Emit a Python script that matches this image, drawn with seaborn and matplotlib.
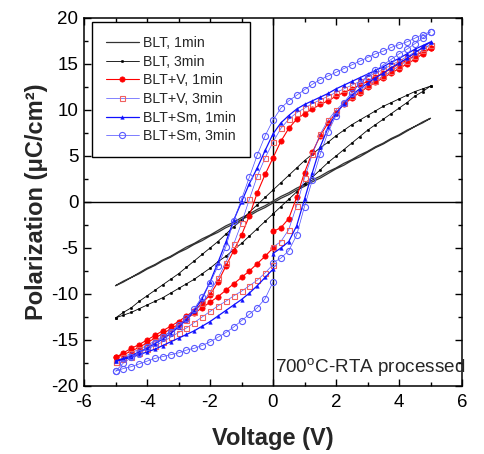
import numpy as np
import matplotlib
matplotlib.use("Agg")
import matplotlib.pyplot as plt
import seaborn as sns
from matplotlib.ticker import MultipleLocator

# Voltage sweep: 0 -> +5 (up), +5 -> -5 (down), -5 -> 0 (back)
V_UP = np.arange(0, 5.001, 0.25)
V_DOWN = np.arange(5, -5.001, -0.25)
V_BACK = np.arange(-5, 0.001, 0.25)

# ---- BLT, 1min ----
BLT1_UP = [-0.1, 0.4, 0.8, 1.3, 1.7, 2.2, 2.6, 3.1, 3.6, 4.0, 4.5, 4.9, 5.4, 5.9, 6.3, 6.8, 7.2, 7.7, 8.2, 8.6, 9.1]
BLT1_DOWN = [9.1, 8.7, 8.2, 7.8, 7.3, 6.9, 6.4, 6.0, 5.5, 5.1, 4.6, 4.2, 3.7, 3.3, 2.8, 2.4, 1.9, 1.5, 1.0, 0.6, 0.1,
             -0.4, -0.8, -1.3, -1.7, -2.2, -2.6, -3.1, -3.6, -4.0, -4.5, -4.9, -5.4, -5.9, -6.3, -6.8, -7.2, -7.7, -8.2, -8.6, -9.1]
BLT1_BACK = [-9.1, -8.7, -8.2, -7.8, -7.3, -6.9, -6.4, -6.0, -5.5, -5.1, -4.6, -4.2, -3.7, -3.3, -2.8, -2.4, -1.9, -1.5, -1.0, -0.6, -0.1]

# ---- BLT, 3min ----
BLT3_UP = [-1.3, -0.5, 0.3, 1.1, 2.0, 2.7, 3.5, 4.3, 5.0, 5.7, 6.4, 7.1, 7.8, 8.4, 9.0, 9.6, 10.2, 10.8, 11.5, 12.0, 12.6]
BLT3_DOWN = [12.6, 12.3, 12.0, 11.6, 11.2, 10.8, 10.4, 9.9, 9.4, 8.9, 8.4, 7.8, 7.2, 6.5, 5.9, 5.2, 4.5, 3.7, 2.9, 2.1, 1.3,
             0.5, -0.3, -1.1, -2.0, -2.7, -3.5, -4.3, -5.0, -5.7, -6.4, -7.1, -7.8, -8.4, -9.0, -9.6, -10.2, -10.8, -11.5, -12.0, -12.6]
BLT3_BACK = [-12.6, -12.3, -12.0, -11.6, -11.2, -10.8, -10.4, -9.9, -9.4, -8.9, -8.4, -7.8, -7.2, -6.5, -5.9, -5.2, -4.5, -3.7, -2.9, -2.1, -1.3]

# ---- BLT+V, 1min ----
V1_UP = [-3.2, -2.8, -1.8, 0.5, 3.2, 5.4, 7.2, 8.6, 9.7, 10.6, 11.3, 11.9, 12.5, 13.0, 13.5, 14.0, 14.5, 15.0, 15.5, 16.1, 16.7]
V1_DOWN = [16.7, 16.3, 15.9, 15.4, 15.0, 14.5, 14.0, 13.6, 13.1, 12.7, 12.3, 11.9, 11.5, 11.0, 10.6, 10.1, 9.6, 9.0, 8.0, 6.6, 4.8,
           3.0, 1.0, -1.5, -3.6, -5.3, -7.0, -8.7, -10.1, -11.0, -11.8, -12.4, -13.0, -13.5, -14.0, -14.5, -15.0, -15.5, -15.9, -16.4, -16.9]
V1_BACK = [-16.9, -16.6, -16.2, -15.8, -15.3, -14.8, -14.3, -13.8, -13.3, -12.7, -12.1, -11.5, -10.9, -10.3, -9.6, -8.9, -8.2, -7.5, -6.7, -5.9, -5.0]

# ---- BLT+V, 3min ----
V3_UP = [-4.9, -4.3, -3.0, -0.4, 2.6, 5.2, 7.4, 8.9, 10.0, 10.8, 11.5, 12.1, 12.7, 13.2, 13.7, 14.2, 14.8, 15.3, 15.9, 16.5, 17.1]
V3_DOWN = [17.1, 16.7, 16.3, 15.8, 15.3, 14.9, 14.4, 14.0, 13.6, 13.1, 12.7, 12.3, 11.9, 11.5, 11.1, 10.7, 10.2, 9.7, 9.0, 8.0, 6.5,
           4.8, 2.8, 0.3, -2.3, -4.6, -6.6, -8.3, -9.8, -11.0, -12.0, -12.8, -13.5, -14.1, -14.6, -15.1, -15.6, -16.0, -16.4, -16.9, -17.4]
V3_BACK = [-17.4, -17.1, -16.8, -16.4, -16.0, -15.6, -15.2, -14.7, -14.2, -13.7, -13.1, -12.5, -11.9, -11.3, -10.8, -10.2, -9.7, -9.1, -8.5, -7.7, -6.8]

# ---- BLT+Sm, 1min ----
SM1_UP = [-5.6, -5.0, -4.3, -2.6, 0.3, 3.2, 6.0, 8.1, 9.6, 10.7, 11.6, 12.3, 12.9, 13.5, 14.0, 14.6, 15.1, 15.6, 16.2, 16.8, 17.4]
SM1_DOWN = [17.4, 17.0, 16.6, 16.1, 15.6, 15.2, 14.7, 14.3, 13.9, 13.5, 13.1, 12.7, 12.3, 11.8, 11.4, 11.0, 10.6, 10.1, 9.4, 8.6, 7.4,
            5.6, 3.7, 2.0, 0.0, -2.0, -4.4, -6.6, -8.7, -10.5, -11.8, -12.8, -13.6, -14.3, -14.9, -15.4, -15.9, -16.3, -16.7, -17.0, -17.3]
SM1_BACK = [-17.3, -17.1, -16.9, -16.6, -16.3, -16.0, -15.6, -15.2, -14.8, -14.4, -14.0, -13.5, -13.0, -12.4, -11.8, -11.2, -10.6, -9.9, -9.1, -8.2, -7.3]

# ---- BLT+Sm, 3min ----
SM3_UP = [-6.6, -6.1, -5.3, -3.6, -0.5, 2.4, 5.2, 7.6, 9.4, 10.8, 11.9, 12.8, 13.6, 14.3, 14.9, 15.5, 16.1, 16.6, 17.2, 17.8, 18.5]
SM3_DOWN = [18.5, 18.2, 17.8, 17.4, 17.1, 16.8, 16.4, 16.1, 15.7, 15.3, 14.9, 14.5, 14.1, 13.7, 13.3, 12.8, 12.2, 11.6, 11.0, 10.2, 8.9,
            7.2, 5.1, 2.7, 0.3, -2.1, -4.9, -7.0, -8.8, -10.3, -11.6, -12.6, -13.4, -14.1, -14.7, -15.3, -15.8, -16.4, -16.9, -17.5, -18.4]
SM3_BACK = [-18.4, -18.1, -17.9, -17.6, -17.3, -17.0, -16.8, -16.6, -16.4, -16.1, -15.9, -15.6, -15.2, -14.7, -14.2, -13.6, -12.9, -12.2, -11.5, -10.5, -8.7]

LABELS = ["BLT, 1min", "BLT, 3min", "BLT+V, 1min", "BLT+V, 3min", "BLT+Sm, 1min", "BLT+Sm, 3min"]
SERIES = [
    (BLT1_UP, BLT1_DOWN, BLT1_BACK),
    (BLT3_UP, BLT3_DOWN, BLT3_BACK),
    (V1_UP, V1_DOWN, V1_BACK),
    (V3_UP, V3_DOWN, V3_BACK),
    (SM1_UP, SM1_DOWN, SM1_BACK),
    (SM3_UP, SM3_DOWN, SM3_BACK),
]

STYLES = [
    dict(color="#333333", lw=0.9, marker=None),
    dict(color="black", lw=0.6, marker="o", markersize=1.8, markerfacecolor="black", markeredgecolor="black", markeredgewidth=0.3),
    dict(color="red", lw=0.8, marker="o", markersize=3.8, markerfacecolor="red", markeredgecolor="red", markeredgewidth=0.5),
    dict(color="#5050ff", lw=0.5, marker="s", markersize=3.6, markerfacecolor="none", markeredgecolor="#f06060", markeredgewidth=0.8),
    dict(color="#1010ff", lw=0.9, marker="^", markersize=2.6, markerfacecolor="#1010ff", markeredgecolor="#1010ff", markeredgewidth=0.3),
    dict(color="#4a4aff", lw=0.5, marker="o", markersize=4.4, markerfacecolor="none", markeredgecolor="#5a5aff", markeredgewidth=0.8),
]

sns.set_style("ticks")
plt.rcParams['font.family'] = ['Liberation Sans', 'DejaVu Sans']
plt.rcParams['mathtext.fontset'] = 'custom'
plt.rcParams['mathtext.rm'] = 'Liberation Sans'
plt.rcParams['axes.unicode_minus'] = False

fig = plt.figure(figsize=(4.84, 4.54), dpi=100)
ax = fig.add_axes([84 / 484, 1 - 386 / 454, 378 / 484, 368 / 454])

ax.axhline(0, color="black", lw=1.0, zorder=1)
ax.axvline(0, color="black", lw=1.0, zorder=1)

v_path = np.concatenate([V_UP, V_DOWN, V_BACK])
for label, (up, down, back), style in zip(LABELS, SERIES, STYLES):
    p_path = np.concatenate([up, down, back])
    sns.lineplot(x=v_path, y=p_path, sort=False, estimator=None, ax=ax, label=label, **style)

ax.set_xlim(-6, 6)
ax.set_ylim(-20, 20)
ax.xaxis.set_major_locator(MultipleLocator(2))
ax.xaxis.set_minor_locator(MultipleLocator(1))
ax.yaxis.set_major_locator(MultipleLocator(5))
ax.yaxis.set_minor_locator(MultipleLocator(2.5))
ax.tick_params(which="both", direction="in", top=True, right=True, width=1.0, colors="black")
ax.tick_params(which="major", length=5, labelsize=13.5)
ax.tick_params(axis="x", which="major", pad=6)
ax.tick_params(axis="y", which="major", pad=4)
ax.tick_params(which="minor", length=3)
for s in ax.spines.values():
    s.set_visible(True)
    s.set_linewidth(1.1)
    s.set_color("black")

ax.set_xlabel("Voltage (V)", fontsize=17, fontweight="bold", labelpad=11)
ax.set_ylabel("Polarization (\u03bcC/cm\u00b2)", fontsize=17, fontweight="bold", labelpad=2)

ax.text(0.07, -18.6, r"700$^{\mathrm{o}}$C-RTA processed", fontsize=13.6, ha="left", va="baseline", clip_on=False)

leg = ax.legend(loc="upper left", bbox_to_anchor=(0.021, 0.99), borderaxespad=0, fontsize=10.2,
                frameon=True, fancybox=False, edgecolor="black", framealpha=1,
                handlelength=2.3, handletextpad=0.3, labelspacing=0.33, borderpad=1.0)
leg.get_frame().set_linewidth(1.0)

fig.savefig("out.png", dpi=100)
